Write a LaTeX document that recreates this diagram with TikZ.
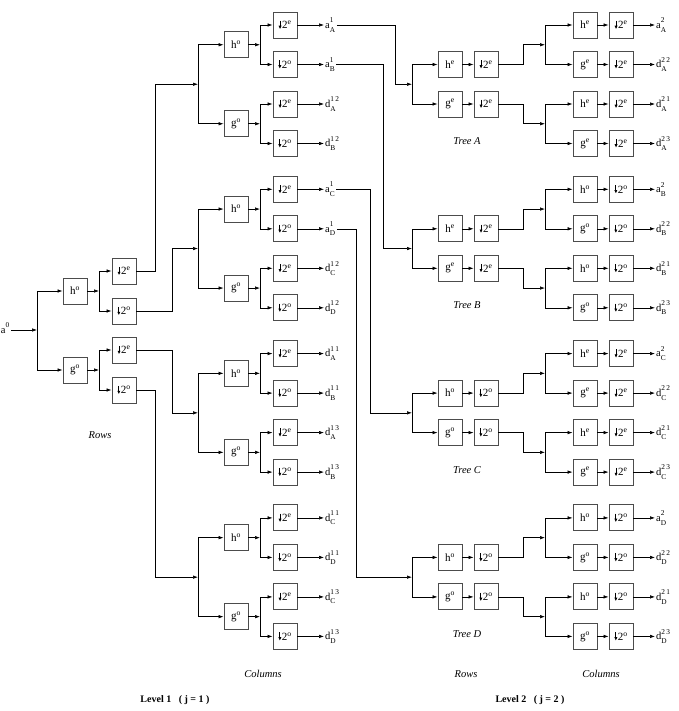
\documentclass[tikz,border=0pt]{standalone}
\usepackage{fontspec}
\setmainfont{Liberation Serif}
\usetikzlibrary{arrows.meta, positioning}

\newcommand{\dsmp}[1]{\tikz[baseline=0pt]\draw[-{Latex[length=3.5pt,width=3.2pt]}, line width=0.8pt] (0pt,8pt) -- (0pt,-0.5pt);\kern0.5pt 2\textsuperscript{#1}}
\newcommand{\filt}[2]{#1\textsuperscript{#2}}
\newcommand{\coef}[3]{$\mathrm{#1}^{\raisebox{1.5pt}{$\scriptstyle\mathrm{#2}$}}_{\raisebox{-1.2pt}{$\scriptstyle\mathrm{#3}$}}$}

\tikzset{
  blk/.style={draw=black!70, line width=0.9pt, minimum width=24pt, minimum height=26pt, inner sep=0pt, font=\fontsize{11}{12}\selectfont},
  coefnode/.style={anchor=west, inner sep=1pt, font=\fontsize{10.5}{12}\selectfont},
  flow/.style={-{Latex[length=5pt,width=3.5pt]}, line width=0.6pt},
  tag/.style={font=\fontsize{10.5}{12}\selectfont\itshape},
  lev/.style={font=\fontsize{10}{12}\selectfont\bfseries},
}

\begin{document}
\begin{tikzpicture}[x=1pt, y=-1pt]
    \useasboundingbox (0,0) rectangle (678,711);

    % Level 1: rows
    \node[coefnode, anchor=east] (a0) at (11,330) {\coef{a}{0}{}};
    \coordinate (j0) at (37,330);
    \draw[flow] (a0) -- (j0);
    \node[blk] (h0) at (75,291) {\filt{h}{o}};
    \node[blk] (g0) at (75,370) {\filt{g}{o}};
    \draw[flow] (j0) |- (h0);
    \draw[flow] (j0) |- (g0);
    \coordinate (jh0) at (99,291);
    \coordinate (jg0) at (99,370);
    \draw[flow] (h0) -- (jh0);
    \draw[flow] (g0) -- (jg0);
    \node[blk] (d0a) at (124,271) {\dsmp{e}};
    \node[blk] (d0b) at (124,311) {\dsmp{o}};
    \node[blk] (d0c) at (124,350) {\dsmp{e}};
    \node[blk] (d0d) at (124,390) {\dsmp{o}};
    \draw[flow] (jh0) |- (d0a);
    \draw[flow] (jh0) |- (d0b);
    \draw[flow] (jg0) |- (d0c);
    \draw[flow] (jg0) |- (d0d);

    % Level 1: columns
    \foreach \k/\p/\sa/\sb/\ca/\cb in {0/a/1/{1\,2}/A/B, 1/a/1/{1\,2}/C/D, 2/d/{1\,1}/{1\,3}/A/B, 3/d/{1\,1}/{1\,3}/C/D} {
        \pgfmathsetmacro\yb{25+164.3*\k}
        \coordinate (c\k) at (198,\yb+59.25);
        \node[blk] (h\k) at (236,\yb+19.75) {\filt{h}{o}};
        \node[blk] (g\k) at (236,\yb+98.75) {\filt{g}{o}};
        \coordinate (ch\k) at (260,\yb+19.75);
        \coordinate (cg\k) at (260,\yb+98.75);
        \draw[flow] (c\k) |- (h\k);
        \draw[flow] (c\k) |- (g\k);
        \draw[flow] (h\k) -- (ch\k);
        \draw[flow] (g\k) -- (cg\k);
        \node[blk] (r\k0) at (285,\yb) {\dsmp{e}};
        \node[blk] (r\k1) at (285,\yb+39.5) {\dsmp{o}};
        \node[blk] (r\k2) at (285,\yb+79) {\dsmp{e}};
        \node[blk] (r\k3) at (285,\yb+118.5) {\dsmp{o}};
        \draw[flow] (ch\k) |- (r\k0);
        \draw[flow] (ch\k) |- (r\k1);
        \draw[flow] (cg\k) |- (r\k2);
        \draw[flow] (cg\k) |- (r\k3);
        \node[coefnode] (o\k0) at (324,\yb) {\coef{\p}{\sa}{\ca}};
        \node[coefnode] (o\k1) at (324,\yb+39.5) {\coef{\p}{\sa}{\cb}};
        \node[coefnode] (o\k2) at (324,\yb+79) {\coef{d}{\sb}{\ca}};
        \node[coefnode] (o\k3) at (324,\yb+118.5) {\coef{d}{\sb}{\cb}};
        \foreach \i in {0,...,3}
            \draw[flow] (r\k\i) -- (o\k\i);
    }

    % rows to columns
    \draw[flow] (d0a) -| ([xshift=-43pt]c0) -- (c0);
    \draw[flow] (d0b) -| ([xshift=-26pt]c1) -- (c1);
    \draw[flow] (d0c) -| ([xshift=-26pt]c2) -- (c2);
    \draw[flow] (d0d) -| ([xshift=-43pt]c3) -- (c3);

    % Level 2: trees
    \foreach \t/\k/\fe/\se in {A/0/e/e, B/1/e/o, C/2/o/e, D/3/o/o} {
        \pgfmathsetmacro\yb{25+164.3*\k}
        \coordinate (tj\t) at (412,\yb+59.25);
        \node[blk] (th\t) at (450,\yb+39.5) {\filt{h}{\fe}};
        \node[blk] (tg\t) at (450,\yb+79) {\filt{g}{\fe}};
        \node[blk] (tdh\t) at (486,\yb+39.5) {\dsmp{\fe}};
        \node[blk] (tdg\t) at (486,\yb+79) {\dsmp{\fe}};
        \coordinate (tu\t) at (545,\yb+19.75);
        \coordinate (tl\t) at (545,\yb+98.75);
        \draw[flow] (tj\t) |- (th\t);
        \draw[flow] (tj\t) |- (tg\t);
        \draw[flow] (th\t) -- (tdh\t);
        \draw[flow] (tg\t) -- (tdg\t);
        \draw[flow] (tdh\t) -| ([xshift=-22pt]tu\t) -- (tu\t);
        \draw[flow] (tdg\t) -| ([xshift=-22pt]tl\t) -- (tl\t);
        \foreach \i/\f/\p/\s in {0/h/a/2, 1/g/d/{2\,2}, 2/h/d/{2\,1}, 3/g/d/{2\,3}} {
            \node[blk] (tf\t\i) at (585,\yb+39.5*\i) {\filt{\f}{\se}};
            \node[blk] (ts\t\i) at (621,\yb+39.5*\i) {\dsmp{\se}};
            \node[coefnode] (tq\t\i) at (655,\yb+39.5*\i) {\coef{\p}{\s}{\t}};
            \draw[flow] (tf\t\i) -- (ts\t\i);
            \draw[flow] (ts\t\i) -- (tq\t\i);
        }
        \draw[flow] (tu\t) |- (tf\t0);
        \draw[flow] (tu\t) |- (tf\t1);
        \draw[flow] (tl\t) |- (tf\t2);
        \draw[flow] (tl\t) |- (tf\t3);
        \node[tag] (tree\t) at (467,\yb+116) {Tree \t};
    }

    % columns to trees
    \draw[flow] (o00) -| ([xshift=-17pt]tjA) -- (tjA);
    \draw[flow] (o01) -| ([xshift=-29pt]tjB) -- (tjB);
    \draw[flow] (o10) -| ([xshift=-42pt]tjC) -- (tjC);
    \draw[flow] (o11) -| ([xshift=-56pt]tjD) -- (tjD);

    % Labels
    \node[tag] (rowsL) at (100,435) {Rows};
    \node[tag] (colsL) at (263,674) {Columns};
    \node[tag] (rowsR) at (466,674) {Rows};
    \node[tag] (colsR) at (601,674) {Columns};
    \node[lev] (lev1) at (175,700) {Level 1 \ \ ( j = 1 )};
    \node[lev] (lev2) at (530,700) {Level 2 \ \ ( j = 2 )};
\end{tikzpicture}
\end{document}
